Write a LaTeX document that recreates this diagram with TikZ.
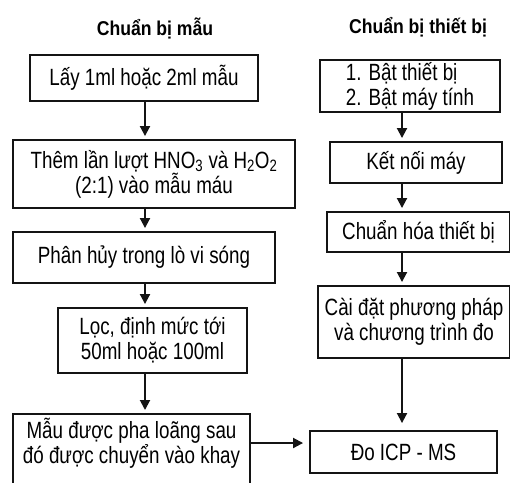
\documentclass[tikz,border=0pt]{standalone}
\usepackage{fontspec}
\setmainfont{Liberation Sans}[FakeStretch=0.80]
\newfontfamily\ttlfont{Liberation Sans}[FakeStretch=0.88]
\usetikzlibrary{arrows.meta}
\definecolor{ink}{RGB}{20,20,20}
\tikzset{
  box/.style={draw=ink,line width=1.9pt,align=center,inner sep=0pt,font=\fontsize{23.5}{25}\selectfont},
  ttl/.style={font=\ttlfont\bfseries\fontsize{20}{22}\selectfont},
  arr/.style={-{Triangle[length=10pt,width=10pt]},line width=1.9pt,draw=ink,shorten >=3pt},
}

\begin{document}
\begin{tikzpicture}[x=1pt,y=-1pt]
  \useasboundingbox (0,0) rectangle (510,482);
  \coordinate (colL) at (145,0);
  \coordinate (colR) at (402,0);
  \coordinate (row) at (0,443);
  % chuan bi mau
  \node[ttl] (tm) at (155,28) {Chuẩn bị mẫu};
  \node[box,minimum width=228pt,minimum height=46pt] (m1) at (144,78) {Lấy 1ml hoặc 2ml mẫu};
  \node[box,minimum width=282pt,minimum height=68pt] (m2) at (154,174)
     {Thêm lần lượt HNO\textsubscript{3} và H\textsubscript{2}O\textsubscript{2}\\(2:1) vào mẫu máu};
  \node[box,minimum width=262pt,minimum height=51pt] (m3) at (144,257.5) {Phân hủy trong lò vi sóng};
  \node[box,minimum width=189pt,minimum height=65pt] (m4) at (152.5,340.5) {Lọc, định mức tới\\50ml hoặc 100ml};
  \node[box,minimum width=237pt,inner ysep=4pt,text depth=70pt,anchor=north] (m5) at (131.5,413)
     {Mẫu được pha loãng sau\\đó được chuyển vào khay};
  % chuan bi thiet bi
  \node[ttl] (tt) at (418,27) {Chuẩn bị thiết bị};
  \node[box,align=left,minimum width=180pt,minimum height=52pt] (t1) at (410,86) {1. Bật thiết bị\\2. Bật máy tính};
  \node[box,minimum width=172pt,minimum height=41pt] (t2) at (416,162.5) {Kết nối máy};
  \node[box,minimum width=183pt,minimum height=40pt] (t3) at (418.5,232) {Chuẩn hóa thiết bị};
  \node[box,minimum width=192pt,minimum height=72pt] (t4) at (414,322) {Cài đặt phương pháp\\và chương trình đo};
  \node[box,minimum width=187pt,minimum height=42pt] (t5) at (403.5,452) {Đo ICP - MS};
  % arrows
  \foreach \a/\b in {m1/m2,m2/m3,m3/m4,m4/m5}
    \draw[arr] (\a.south -| colL) -- (\b.north -| colL);
  \foreach \a/\b in {t1/t2,t2/t3,t3/t4}
    \draw[arr] (\a.south -| colR) -- (\b.north -| colR);
  \draw[arr,shorten >=7pt] (t4.south -| colR) -- (t5.north -| colR);
  \draw[arr,shorten >=6pt] (m5.east |- row) -- (t5.west |- row);
\end{tikzpicture}
\end{document}
